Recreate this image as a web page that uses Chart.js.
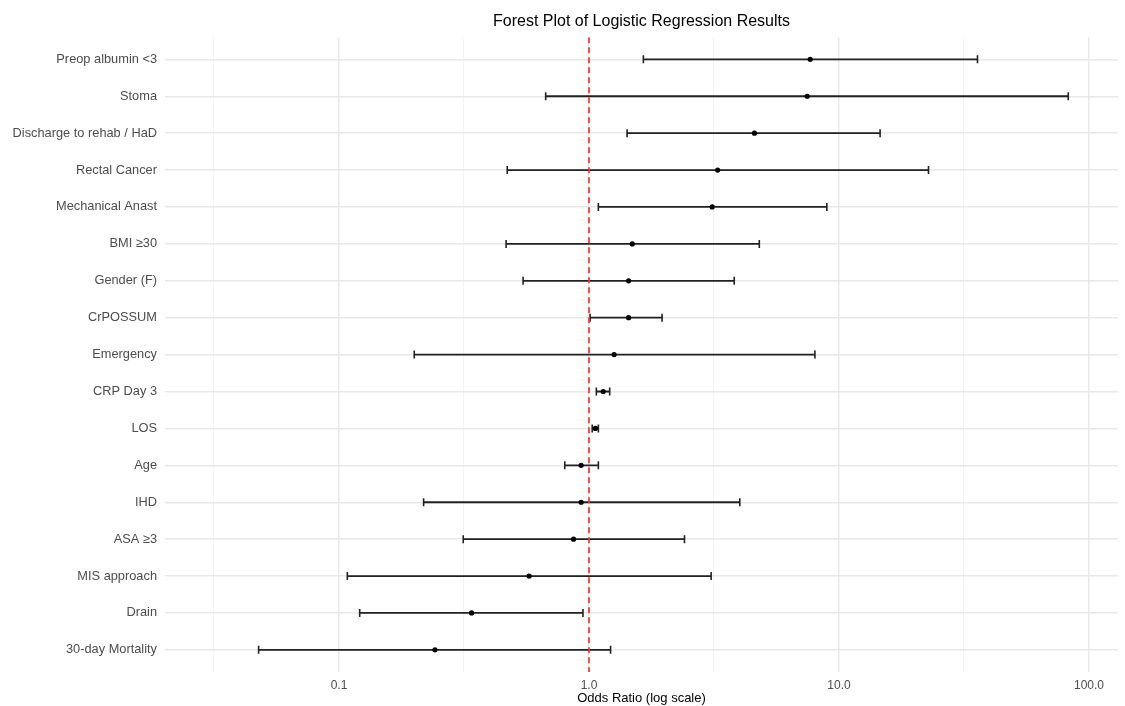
<!DOCTYPE html>
<html>
<head>
<meta charset="utf-8">
<script src="https://cdn.jsdelivr.net/npm/chart.js@4/dist/chart.umd.min.js"></script>
<style>
  body { margin: 0; background: #fff; }
  canvas { display: block; }
</style>
</head>
<body>
<canvas id="forestChart" width="1125" height="706"></canvas>
<script>
const categories = [
  "Preop albumin <3", "Stoma", "Discharge to rehab / HaD", "Rectal Cancer",
  "Mechanical Anast", "BMI ≥30", "Gender (F)", "CrPOSSUM", "Emergency",
  "CRP Day 3", "LOS", "Age", "IHD", "ASA ≥3", "MIS approach", "Drain",
  "30-day Mortality"
];
const oddsRatio = [7.67, 7.46, 4.59, 3.27, 3.11, 1.49, 1.44, 1.44, 1.26, 1.14, 1.06, 0.93, 0.93, 0.867, 0.576, 0.339, 0.242];
const ciLow     = [1.65, 0.671, 1.42, 0.471, 1.09, 0.466, 0.545, 1.01, 0.200, 1.07, 1.03, 0.80, 0.218, 0.314, 0.108, 0.121, 0.0477];
const ciHigh    = [35.8, 82.6, 14.6, 22.8, 8.94, 4.80, 3.81, 1.96, 8.01, 1.21, 1.09, 1.09, 4.01, 2.41, 3.08, 0.946, 1.22];
const majorTicks = [0.1, 1, 10, 100];
const minorTicks = [0.0316, 0.316, 3.16, 31.6];
const tickLabels = ["0.1", "1.0", "10.0", "100.0"];

const fontFamily = "'Liberation Sans', Arial, sans-serif";

function buildDatasets() {
  const sets = [];
  // red reference line at OR = 1
  sets.push({
    data: [{ x: 1, y: 0.4 }, { x: 1, y: 17.6 }],
    showLine: true,
    borderColor: "#ff3030",
    borderWidth: 1.7,
    borderDash: [6, 4],
    pointRadius: 0,
    order: 1,
  });
  // point estimates
  sets.push({
    data: oddsRatio.map((v, i) => ({ x: v, y: i + 1 })),
    pointRadius: 2.6,
    pointBackgroundColor: "#000",
    pointBorderColor: "#000",
    pointBorderWidth: 0,
    order: 0,
  });
  // error bars, one dataset per row
  for (let i = 0; i < categories.length; i++) {
    sets.push({
      data: [{ x: ciLow[i], y: i + 1 }, { x: ciHigh[i], y: i + 1 }],
      showLine: true,
      borderColor: "#222",
      borderWidth: 1.8,
      pointStyle: "line",
      pointRotation: 90,
      pointRadius: 4,
      pointBorderColor: "#222",
      pointBorderWidth: 1.6,
      order: 2,
    });
  }
  return sets;
}

function loadChart() {
  const config = {
    type: "scatter",
    data: { datasets: buildDatasets() },
    options: {
      responsive: false,
      animation: false,
      devicePixelRatio: 1,
      layout: { padding: { left: 0, right: 7, top: 0, bottom: 0 } },
      plugins: {
        legend: { display: false },
        tooltip: { enabled: false },
        title: {
          display: true,
          fullSize: false,
          text: "Forest Plot of Logistic Regression Results",
          color: "#000",
          font: { family: fontFamily, size: 16, weight: "normal" },
          padding: { top: 12, bottom: 6 },
        },
      },
      scales: {
        x: {
          type: "logarithmic",
          min: 0.02014,
          max: 130.6,
          border: { display: false },
          afterBuildTicks: (scale) => {
            scale.ticks = majorTicks.concat(minorTicks).sort((a, b) => a - b).map((v) => ({ value: v }));
          },
          afterFit: (scale) => { scale.height = 34; },
          grid: {
            drawTicks: false,
            color: (ctx) => (majorTicks.includes(ctx.tick.value) ? "#e8e8e8" : "#f2f2f2"),
            lineWidth: (ctx) => (majorTicks.includes(ctx.tick.value) ? 1.4 : 0.9),
          },
          ticks: {
            autoSkip: false,
            maxRotation: 0,
            padding: 6,
            color: "#4d4d4d",
            font: { family: fontFamily, size: 12 },
            callback: (v) => {
              const k = majorTicks.indexOf(v);
              return k >= 0 ? tickLabels[k] : "";
            },
          },
          title: {
            display: true,
            text: "Odds Ratio (log scale)",
            color: "#000",
            font: { family: fontFamily, size: 13 },
            padding: { top: 0, bottom: 0 },
          },
        },
        y: {
          type: "linear",
          reverse: true,
          min: 0.4,
          max: 17.6,
          border: { display: false },
          afterBuildTicks: (scale) => {
            scale.ticks = categories.map((c, i) => ({ value: i + 1 }));
          },
          afterFit: (scale) => { scale.width = 165; },
          grid: { drawTicks: false, color: "#e8e8e8", lineWidth: 1.4 },
          ticks: {
            autoSkip: false,
            padding: 8,
            color: "#4d4d4d",
            font: { family: fontFamily, size: 12.8 },
            callback: (v) => categories[v - 1],
          },
        },
      },
    },
  };
  const chart = new Chart(document.getElementById("forestChart"), config);
}

loadChart();
</script>
</body>
</html>
